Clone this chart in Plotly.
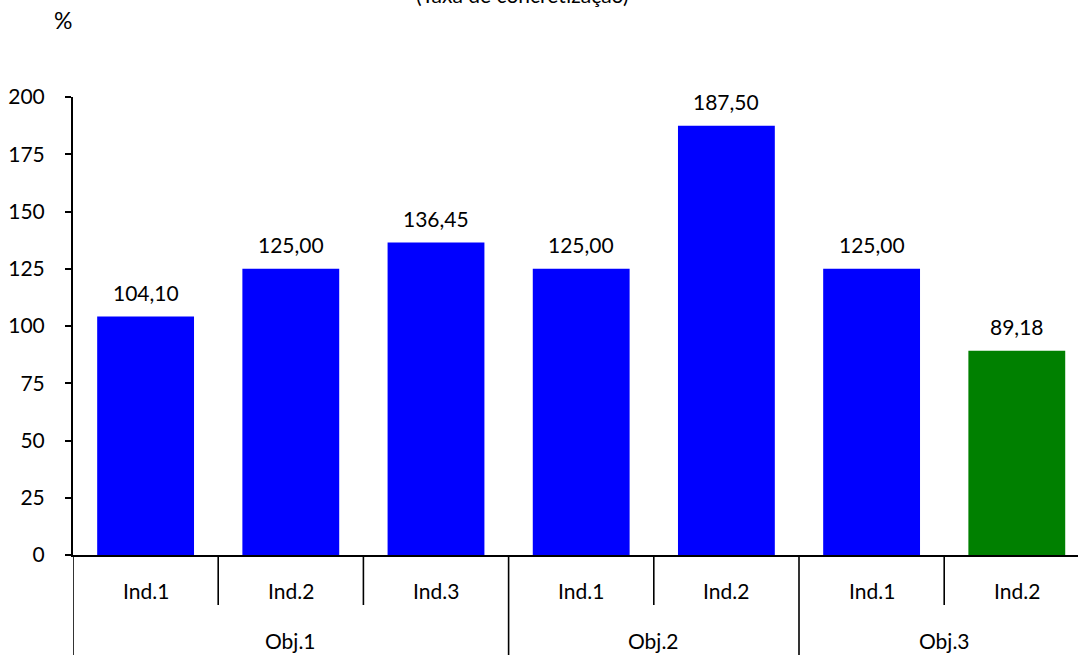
import plotly.graph_objects as go

# Indicators grouped by objective, with the achievement rate (%) of each
objectives = ["Obj.1", "Obj.1", "Obj.1", "Obj.2", "Obj.2", "Obj.3", "Obj.3"]
indicators = ["Ind.1", "Ind.2", "Ind.3", "Ind.1", "Ind.2", "Ind.1", "Ind.2"]
rates = [104.10, 125.00, 136.45, 125.00, 187.50, 125.00, 89.18]
bar_colors = ["#0000FF", "#0000FF", "#0000FF", "#0000FF", "#0000FF", "#0000FF", "#008000"]

y_ticks = [0, 25, 50, 75, 100, 125, 150, 175, 200]

FONT = "Lato, 'Open Sans', sans-serif"
W, H = 1078, 655
M_L, M_R, M_T, M_B = 73, 0, 97, 100
plot_h = H - M_T - M_B
plot_w = W - M_L - M_R
cat_px = 145.2  # width of one indicator slot


def py(px_from_top):
    """Convert a pixel row of the page into paper y units."""
    return (H - M_B - px_from_top) / plot_h


def px_x(px_from_left):
    return (px_from_left - M_L) / plot_w


xs = list(range(len(rates)))

fig = go.Figure(
    go.Bar(
        x=xs,
        y=rates,
        marker=dict(color=bar_colors, line=dict(width=0)),
        hoverinfo="skip",
    )
)

annotations = []
# value labels above the bars
for x, v in zip(xs, rates):
    annotations.append(dict(
        x=x, y=v, xref="x", yref="y",
        text=f"{v:.2f}".replace(".", ","),
        showarrow=False, yanchor="bottom", yshift=10,
        font=dict(family=FONT, size=21, color="#000000"),
    ))

# indicator labels (first category level)
for x, name in zip(xs, indicators):
    annotations.append(dict(
        x=x, y=py(590), xref="x", yref="paper",
        text=name, showarrow=False, yanchor="middle",
        font=dict(family=FONT, size=21, color="#000000"),
    ))

# objective labels (second category level), centred on each group
groups = []
for i, o in enumerate(objectives):
    if not groups or groups[-1][0] != o:
        groups.append([o, i, i])
    else:
        groups[-1][2] = i
for o, a, b in groups:
    annotations.append(dict(
        x=(a + b) / 2, y=py(640), xref="x", yref="paper",
        text=o, showarrow=False, yanchor="middle",
        font=dict(family=FONT, size=21, color="#000000"),
    ))

# unit and subtitle (the subtitle sits at the very top edge)
annotations.append(dict(
    x=px_x(63), y=py(20), xref="paper", yref="paper",
    text="%", showarrow=False, xanchor="center", yanchor="middle",
    font=dict(family=FONT, size=23, color="#000000"),
))
annotations.append(dict(
    x=px_x(522), y=py(9), xref="paper", yref="paper",
    text="(Taxa de concretização)", showarrow=False,
    xanchor="center", yanchor="bottom",
    font=dict(family=FONT, size=21, color="#000000"),
))

# category boundary lines: short ticks inside a group, long dividers between groups
shapes = []
line = dict(color="#000000", width=1.6)
shapes.append(dict(type="line", xref="x", yref="paper",
                   x0=-0.5, x1=-0.5, y0=0, y1=py(655), line=line))
for i in range(len(objectives) - 1):
    b = i + 0.5
    low = py(605) if objectives[i] == objectives[i + 1] else py(655)
    shapes.append(dict(type="line", xref="x", yref="paper",
                       x0=b, x1=b, y0=0, y1=low, line=line))

fig.update_layout(
    width=W, height=H,
    margin=dict(l=M_L, r=M_R, t=M_T, b=M_B, pad=0),
    paper_bgcolor="#FFFFFF", plot_bgcolor="#FFFFFF",
    showlegend=False,
    bargap=0.333,
    annotations=annotations,
    shapes=shapes,
    font=dict(family=FONT, size=21, color="#000000"),
)
fig.update_xaxes(
    range=[-0.5, -0.5 + plot_w / cat_px],
    showticklabels=False, ticks="", showgrid=False, zeroline=False,
    showline=True, linecolor="#000000", linewidth=2,
)
fig.update_yaxes(
    range=[0, 200], tickvals=y_ticks, ticktext=[str(t) for t in y_ticks],
    ticks="outside", ticklen=6, tickwidth=1.6, tickcolor="#000000",
    ticklabelstandoff=16,
    showgrid=False, zeroline=False,
    showline=True, linecolor="#000000", linewidth=2,
    tickfont=dict(family=FONT, size=21, color="#000000"),
)

fig.write_html("out.html")
